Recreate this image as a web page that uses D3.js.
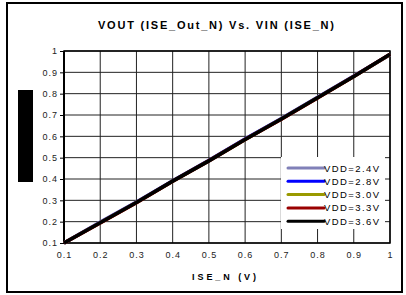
<!DOCTYPE html>
<html>
<head>
<meta charset="utf-8">
<script src="https://cdn.jsdelivr.net/npm/d3@7"></script>
<style>
  body { margin: 0; background: #fff; }
  svg { display: block; font-family: Arial, "Liberation Sans", sans-serif; }
</style>
</head>
<body>
<div id="chart"></div>
<script>
// input voltage ISE_N (V)
var vin = [0.1, 0.2, 0.3, 0.4, 0.5, 0.6, 0.7, 0.8, 0.9, 1.0];

// output voltage per supply
var vdd24 = [0.100, 0.198, 0.292, 0.392, 0.488, 0.588, 0.683, 0.783, 0.883, 0.983];
var vdd28 = [0.100, 0.196, 0.291, 0.391, 0.487, 0.587, 0.682, 0.782, 0.882, 0.984];
var vdd30 = [0.100, 0.195, 0.290, 0.389, 0.486, 0.585, 0.681, 0.781, 0.881, 0.984];
var vdd33 = [0.100, 0.194, 0.289, 0.389, 0.485, 0.585, 0.680, 0.780, 0.880, 0.985];
var vdd36 = [0.100, 0.195, 0.290, 0.390, 0.485, 0.585, 0.681, 0.781, 0.881, 0.985];

var seriesNames = ["VDD=2.4V", "VDD=2.8V", "VDD=3.0V", "VDD=3.3V", "VDD=3.6V"];
var seriesColors = ["#8080b8", "#0000ff", "#999900", "#990000", "#000000"];
var seriesValues = [vdd24, vdd28, vdd30, vdd33, vdd36];

var xTicks = [0.1, 0.2, 0.3, 0.4, 0.5, 0.6, 0.7, 0.8, 0.9, 1];
var yTicks = [0.1, 0.2, 0.3, 0.4, 0.5, 0.6, 0.7, 0.8, 0.9, 1];

var W = 406, H = 295;
var margin = { top: 51, right: 16, bottom: 52, left: 64 },
    width = W - margin.left - margin.right,
    height = H - margin.top - margin.bottom;

var svg = d3.select("#chart")
    .append("svg")
    .attr("width", W)
    .attr("height", H);

// outer frame
svg.append("rect")
    .attr("x", 7).attr("y", 3)
    .attr("width", 395).attr("height", 289)
    .attr("fill", "#fff")
    .attr("stroke", "#000")
    .attr("stroke-width", 2);

// redaction bar where the y title sits
svg.append("rect")
    .attr("x", 18).attr("y", 90)
    .attr("width", 15).attr("height", 92)
    .attr("fill", "#000");

// title
svg.append("text")
    .attr("x", 216).attr("y", 29)
    .attr("text-anchor", "middle")
    .attr("font-size", 11)
    .attr("font-weight", "bold")
    .attr("textLength", 236)
    .attr("lengthAdjust", "spacing")
    .text("VOUT (ISE_Out_N) Vs. VIN (ISE_N)");

var g = svg.append("g")
    .attr("transform", "translate(" + margin.left + "," + margin.top + ")");

var x = d3.scaleLinear().domain([0.1, 1]).range([0, width]);
var y = d3.scaleLinear().domain([0.1, 1]).range([height, 0]);

// grid
g.append("g")
    .selectAll("line")
    .data(xTicks)
    .join("line")
    .attr("x1", d => x(d)).attr("x2", d => x(d))
    .attr("y1", 0).attr("y2", height)
    .attr("stroke", "#222")
    .attr("stroke-width", 1);

g.append("g")
    .selectAll("line")
    .data(yTicks)
    .join("line")
    .attr("x1", 0).attr("x2", width)
    .attr("y1", d => y(d)).attr("y2", d => y(d))
    .attr("stroke", "#222")
    .attr("stroke-width", 1);

// axes
var yAxis = g.append("g")
    .call(d3.axisLeft(y).tickValues(yTicks).tickSize(4).tickSizeOuter(0)
        .tickFormat(d3.format("")));
var xAxis = g.append("g")
    .attr("transform", "translate(0," + height + ")")
    .call(d3.axisBottom(x).tickValues(xTicks).tickSize(0).tickSizeOuter(0)
        .tickFormat(d3.format("")));

[yAxis, xAxis].forEach(function (a) {
    a.select(".domain").remove();
    a.selectAll("line").attr("stroke", "#000");
    a.selectAll("text")
        .attr("font-size", 9)
        .attr("letter-spacing", 1)
        .attr("fill", "#222")
        .attr("font-family", "Arial, 'Liberation Sans', sans-serif");
});
yAxis.selectAll("text").attr("x", -6);
xAxis.selectAll("text").attr("dy", "0").attr("y", 15);

// plot frame
g.append("rect")
    .attr("width", width).attr("height", height)
    .attr("fill", "none")
    .attr("stroke", "#000")
    .attr("stroke-width", 1.5);
g.append("line")
    .attr("x1", 0).attr("x2", 0).attr("y1", 0).attr("y2", height)
    .attr("stroke", "#000").attr("stroke-width", 2);

// lines
var line = d3.line()
    .x(function (d, i) { return x(vin[i]); })
    .y(function (d) { return y(d); });

g.append("g")
    .selectAll("path")
    .data(seriesValues)
    .join("path")
    .attr("fill", "none")
    .attr("stroke", (d, i) => seriesColors[i])
    .attr("stroke-width", 3.5)
    .attr("d", line);

// legend
var legend = g.append("g")
    .attr("transform", "translate(" + (281 - margin.left) + "," + (157 - margin.top) + ")");
legend.append("rect")
    .attr("width", 104).attr("height", 72)
    .attr("fill", "#fff");
var item = legend.selectAll("g.item")
    .data(seriesNames)
    .join("g")
    .attr("class", "item")
    .attr("transform", (d, i) => "translate(0," + (11 + i * 13.3) + ")");
item.append("line")
    .attr("x1", 7).attr("x2", 43)
    .attr("stroke", (d, i) => seriesColors[i])
    .attr("stroke-width", 3)
    .attr("stroke-linecap", "round");
item.append("text")
    .attr("x", 43).attr("y", 3.5)
    .attr("font-size", 9.5)
    .attr("fill", "#000")
    .attr("textLength", 55)
    .attr("lengthAdjust", "spacing")
    .text(d => d);

// x axis title
svg.append("text")
    .attr("x", 224).attr("y", 280)
    .attr("text-anchor", "middle")
    .attr("font-size", 9)
    .attr("font-weight", "bold")
    .attr("textLength", 64)
    .attr("lengthAdjust", "spacing")
    .text("ISE_N (V)");
</script>
</body>
</html>
